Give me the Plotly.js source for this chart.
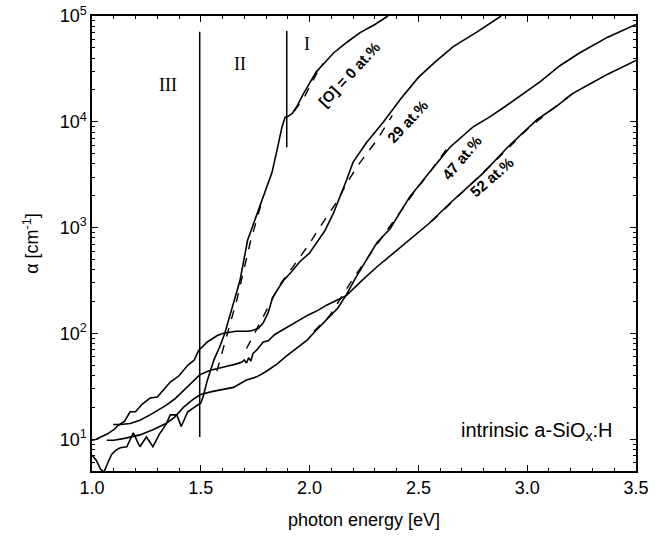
<!DOCTYPE html>
<html>
<head>
<meta charset="utf-8">
<script src="https://cdn.plot.ly/plotly-3.0.1.min.js"></script>
<style>html,body{margin:0;padding:0;background:#fff;}#chart{width:670px;height:541px;}</style>
</head>
<body>
<div id="chart"></div>
<script>
// photon energy [eV] and absorption coefficient alpha [cm^-1]
const E_O0 = [1.00,1.02,1.04,1.055,1.07,1.09,1.11,1.13,1.16,1.19,1.22,1.25,1.28,1.31,1.34,1.36,1.39,1.41,1.44,1.47,1.49,1.50,1.51,1.53,1.56,1.586,1.61,1.64,1.68,1.715,1.75,1.77,1.795,1.827,1.85,1.873,1.887,1.90,1.92,1.94,1.97,1.99,2.03,2.07,2.11,2.17,2.23,2.30,2.36];
const A_O0 = [7.1,6.3,5.2,4.9,5.8,7.2,7.9,8.3,8.5,11.5,8.5,10.5,8.5,11.2,13.8,17,17,13.2,18.2,20,21.4,22,25,36,56,74,100,166,316,760,1200,1550,2140,3310,5370,8900,11000,11200,12000,13800,18200,21400,29500,36300,44700,56200,69200,83200,100000];

const E_O29 = [1.00,1.02,1.04,1.07,1.10,1.12,1.15,1.175,1.20,1.23,1.267,1.30,1.33,1.36,1.40,1.44,1.47,1.49,1.53,1.574,1.60,1.634,1.66,1.69,1.72,1.74,1.765,1.787,1.81,1.83,1.855,1.88,1.92,1.956,2.00,2.03,2.07,2.11,2.14,2.17,2.20,2.26,2.34,2.42,2.50,2.58,2.66,2.77,2.88];
const A_O29 = [9.8,10,10.5,11.2,12.3,13.5,14.8,18.2,18.2,21.4,24.5,25.1,29.5,34.7,39.8,50,56,69,83,95,100,102,105,105,105,107,112,126,158,219,263,316,389,479,575,708,933,1380,1950,2820,4170,6310,10000,16600,26300,37200,51300,70800,100000];

const E_O47 = [1.068,1.10,1.15,1.22,1.28,1.34,1.38,1.42,1.46,1.496,1.55,1.60,1.65,1.71,1.757,1.80,1.85,1.89,1.94,1.99,2.03,2.08,2.13,2.17,2.21,2.26,2.31,2.37,2.46,2.55,2.645,2.75,2.83,2.91,2.99,3.06,3.15,3.24,3.37,3.50];
const A_O47 = [9.8,9.8,10.2,11,12.3,14.1,16.2,20,23.4,26.3,28.2,29.5,30.9,36.3,38.9,43.7,51.3,60.3,72.4,87.1,107,135,174,234,331,490,724,977,1950,3310,5750,8910,11200,14500,19100,24000,33900,44700,63100,83200];

const E_O52 = [1.097,1.13,1.175,1.22,1.267,1.30,1.34,1.38,1.42,1.46,1.496,1.54,1.574,1.62,1.66,1.69,1.70,1.71,1.72,1.73,1.74,1.76,1.787,1.81,1.84,1.89,1.94,1.99,2.04,2.08,2.12,2.17,2.24,2.31,2.38,2.45,2.55,2.645,2.72,2.80,2.91,3.045,3.13,3.21,3.29,3.37,3.50];
const A_O52 = [13.8,13.8,14.1,15.1,17,18.6,20.9,24,28.8,34.7,40.7,44.7,46.8,49,51.3,53.7,56.2,52.5,58.9,55,64.6,70.8,83.2,85.1,97.7,112,129,148,166,186,204,229,316,427,562,741,1100,1700,2340,3310,5750,10500,13800,18600,22900,28200,38000];

// dashed fits
const E_fit0II = [1.574,1.62,1.666,1.70,1.726,1.76,1.787];
const A_fit0II = [44,95,209,417,708,1260,1950];
const E_fit0I = [1.93,1.98,2.03,2.06];
const A_fit0I = [12600,17800,28000,35500];
const E_fit29 = [1.71,1.75,1.79,1.83,1.87,1.92,1.96,2.00,2.03,2.08,2.13,2.17,2.23,2.31,2.38];
const A_fit29 = [72,105,148,214,302,417,537,708,891,1260,1820,2630,4070,6760,11500];
const E_fit47 = [2.02,2.09,2.13,2.20,2.30,2.40,2.48,2.56,2.64];
const A_fit47 = [105,145,195,330,650,1250,2150,3500,5900];
const E_fit52 = [2.56,2.70,2.85,3.00,3.10,3.21];
const A_fit52 = [1140,2150,4200,8500,12500,18600];

// region boundaries
const E_bound1 = [1.495,1.495];
const A_bound1 = [10.5,70800];
const E_bound2 = [1.895,1.895];
const A_bound2 = [5750,72000];

const xTicks = [1.0,1.5,2.0,2.5,3.0,3.5];
const xTickText = ['1.0','1.5','2.0','2.5','3.0','3.5'];
const yTicks = [10,100,1000,10000,100000];
const yTickText = ['10<sup>1</sup>','10<sup>2</sup>','10<sup>3</sup>','10<sup>4</sup>','10<sup>5</sup>'];
const yMinor = [5,6,7,8,9,20,30,40,50,60,70,80,90,200,300,400,500,600,700,800,900,2000,3000,4000,5000,6000,7000,8000,9000,20000,30000,40000,50000,60000,70000,80000,90000];

const FONT = 'Liberation Sans, Arial, Helvetica, sans-serif';
const solid = {color:'#000', width:1.6};
const dash = {color:'#000', width:1.4, dash:'dash'};
function tr(x,y,line){return {x:x,y:y,mode:'lines',line:line,hoverinfo:'skip',showlegend:false};}

const data = [
  tr(E_O0,A_O0,solid), tr(E_O29,A_O29,solid), tr(E_O47,A_O47,solid), tr(E_O52,A_O52,solid),
  tr(E_fit0II,A_fit0II,dash), tr(E_fit0I,A_fit0I,dash), tr(E_fit29,A_fit29,dash), tr(E_fit47,A_fit47,dash), tr(E_fit52,A_fit52,dash),
  tr(E_bound1,A_bound1,{color:'#000',width:1.5}), tr(E_bound2,A_bound2,{color:'#000',width:1.5})
];

const lab = (t,x,y,ang,sz)=>({text:'<b>'+t+'</b>',x:x,y:y,xref:'x',yref:'y',showarrow:false,textangle:ang,font:{family:FONT,size:sz,color:'#000'}});
const roman = (t,x,y)=>({text:t,x:x,y:y,xref:'x',yref:'y',showarrow:false,font:{family:'Liberation Serif, Times New Roman, serif',size:18,color:'#000'}});

const layout = {
  width:670, height:541,
  margin:{l:92,r:34,t:16,b:70},
  paper_bgcolor:'#fff', plot_bgcolor:'#fff',
  font:{family:FONT,color:'#000'},
  showlegend:false,
  xaxis:{
    range:[1,3.5], tickmode:'array', tickvals:xTicks, ticktext:xTickText,
    ticks:'inside', ticklen:6, tickwidth:1.3, tickcolor:'#000',
    minor:{dtick:0.1, tick0:1, ticks:'inside', ticklen:3, tickwidth:1, tickcolor:'#000', showgrid:false},
    showline:true, linecolor:'#000', linewidth:1.6, mirror:'allticks',
    showgrid:false, zeroline:false,
    tickfont:{family:FONT,size:18,color:'#000'},
    title:{text:'photon energy [eV]', font:{family:FONT,size:18,color:'#000'}, standoff:16}
  },
  yaxis:{
    type:'log', range:[0.7,5], tickmode:'array', tickvals:yTicks, ticktext:yTickText,
    ticks:'inside', ticklen:6, tickwidth:1.3, tickcolor:'#000',
    minor:{tickmode:'array', tickvals:yMinor, ticks:'inside', ticklen:3, tickwidth:1, tickcolor:'#000', showgrid:false},
    showline:true, linecolor:'#000', linewidth:1.6, mirror:'allticks',
    showgrid:false, zeroline:false,
    tickfont:{family:FONT,size:18,color:'#000'},
    title:{text:'α [cm<sup>-1</sup>]', font:{family:FONT,size:18,color:'#000'}, standoff:16}
  },
  annotations:[
    roman('III',1.35,4.35), roman('II',1.68,4.55), roman('I',1.99,4.74),
    lab('[O] = 0 at.%',2.18,4.45,-47,15),
    lab('29 at.%',2.45,4.0,-47,15),
    lab('47 at.%',2.70,3.66,-50,15),
    lab('52 at.%',2.84,3.48,-41,15),
    {text:'intrinsic a-SiO<sub>x</sub>:H', x:3.4, y:1.07, xref:'x', yref:'y', xanchor:'right', showarrow:false, font:{family:FONT,size:20,color:'#000'}}
  ]
};

Plotly.newPlot('chart', data, layout, {staticPlot:true, displayModeBar:false});
</script>
</body>
</html>
